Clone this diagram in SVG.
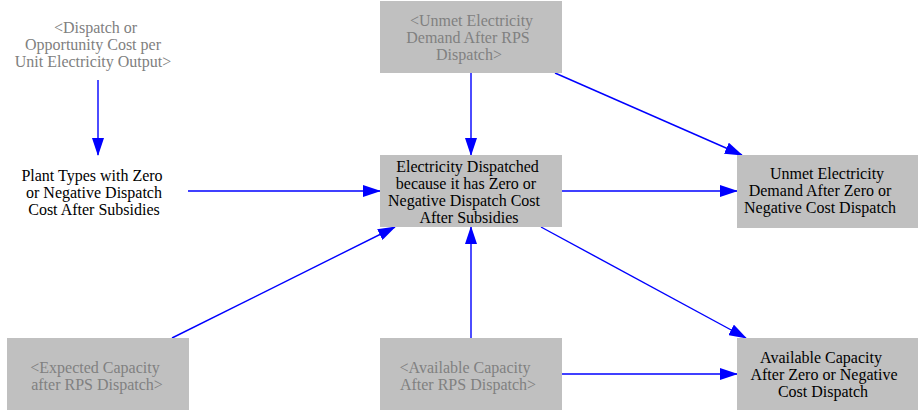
<svg xmlns="http://www.w3.org/2000/svg" width="923" height="415" viewBox="0 0 923 415">
<style>
.box{fill:#c0c0c0;stroke:none}
.t{font-family:"Liberation Serif","Times New Roman",serif;font-size:16px;text-anchor:middle;fill:#000}
.g{fill:#808080}
.e{stroke:#0000ff;stroke-width:1.4;fill:none;marker-end:url(#ah)}
</style>
<defs>
<marker id="ah" markerWidth="18" markerHeight="12" refX="17" refY="6" orient="auto" markerUnits="userSpaceOnUse">
<path d="M0,0 L18,6 L0,12 Z" fill="#0000ff"/>
</marker>
</defs>
<rect width="923" height="415" fill="#fff"/>
<g id="connectors">
<line class="e" x1="98" y1="80" x2="98" y2="155"/>
<line class="e" x1="188" y1="191" x2="380" y2="191"/>
<line class="e" x1="471" y1="73" x2="471" y2="155"/>
<line class="e" x1="555" y1="73" x2="742" y2="155"/>
<line class="e" x1="562" y1="191" x2="737" y2="191"/>
<line class="e" x1="541" y1="227" x2="746" y2="338"/>
<line class="e" x1="172" y1="338" x2="395" y2="227"/>
<line class="e" x1="471" y1="338" x2="471" y2="227"/>
<line class="e" x1="562" y1="374" x2="737" y2="374"/>
</g>
<g id="n_dispatch_cost">
<text class="t g" x="95.5" y="33">&lt;Dispatch or</text>
<text class="t g" x="93" y="50">Opportunity Cost per</text>
<text class="t g" x="93" y="67">Unit Electricity Output&gt;</text>
</g>
<g id="n_plant_types">
<text class="t" x="92" y="181">Plant Types with Zero</text>
<text class="t" x="94" y="198">or Negative Dispatch</text>
<text class="t" x="94" y="215">Cost After Subsidies</text>
</g>
<g id="n_unmet_rps">
<rect class="box" x="380" y="1" width="182" height="72"/>
<text class="t g" x="471.5" y="26">&lt;Unmet Electricity</text>
<text class="t g" x="468" y="43">Demand After RPS</text>
<text class="t g" x="469" y="60">Dispatch&gt;</text>
</g>
<g id="n_dispatched">
<rect class="box" x="380" y="155" width="182" height="72"/>
<text class="t" x="467.5" y="172">Electricity Dispatched</text>
<text class="t" x="466" y="189">because it has Zero or</text>
<text class="t" x="464" y="206">Negative Dispatch Cost</text>
<text class="t" x="469" y="223">After Subsidies</text>
</g>
<g id="n_unmet_zero">
<rect class="box" x="737" y="155" width="181" height="73"/>
<text class="t" x="827" y="179">Unmet Electricity</text>
<text class="t" x="820" y="196">Demand After Zero or</text>
<text class="t" x="820" y="213">Negative Cost Dispatch</text>
</g>
<g id="n_expected_cap">
<rect class="box" x="7" y="338" width="182" height="72"/>
<text class="t g" x="95" y="373">&lt;Expected Capacity</text>
<text class="t g" x="97" y="390">after RPS Dispatch&gt;</text>
</g>
<g id="n_avail_rps">
<rect class="box" x="380" y="338" width="182" height="72"/>
<text class="t g" x="465" y="373">&lt;Available Capacity</text>
<text class="t g" x="468" y="390">After RPS Dispatch&gt;</text>
</g>
<g id="n_avail_zero">
<rect class="box" x="737" y="338" width="181" height="72"/>
<text class="t" x="821" y="363">Available Capacity</text>
<text class="t" x="824" y="380">After Zero or Negative</text>
<text class="t" x="823" y="397">Cost Dispatch</text>
</g>
</svg>
